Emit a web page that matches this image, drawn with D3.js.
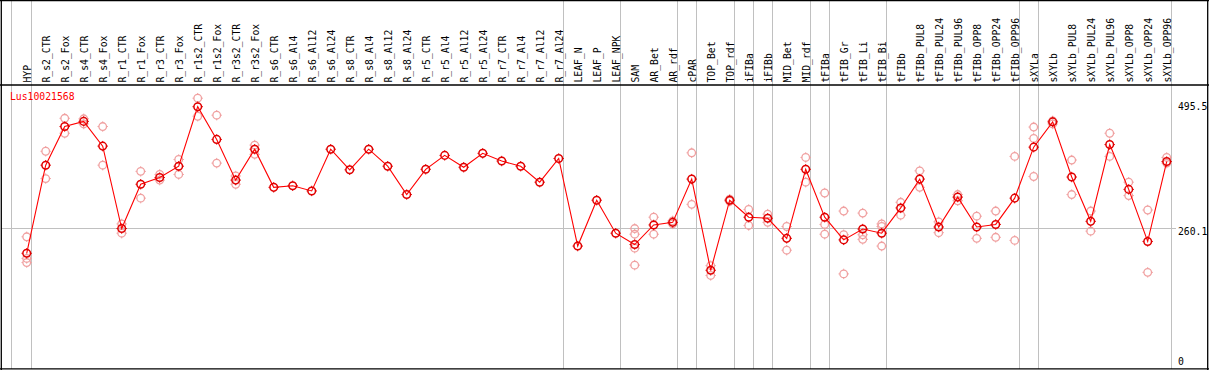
<!DOCTYPE html>
<html><head><meta charset="utf-8">
<script src="https://cdn.jsdelivr.net/npm/d3@7"></script>
<style>
html,body{margin:0;padding:0;background:#fff;}
svg{display:block;}
text{font-family:"DejaVu Sans Mono","Liberation Mono",monospace;}
</style></head>
<body>
<svg id="chart" width="1209" height="370"></svg>
<script>
const title = "Lus10021568";
const categories = ["HYP","R_s2_CTR","R_s2_Fox","R_s4_CTR","R_s4_Fox","R_r1_CTR","R_r1_Fox","R_r3_CTR","R_r3_Fox","R_r1s2_CTR","R_r1s2_Fox","R_r3s2_CTR","R_r3s2_Fox","R_s6_CTR","R_s6_Al4","R_s6_Al12","R_s6_Al24","R_s8_CTR","R_s8_Al4","R_s8_Al12","R_s8_Al24","R_r5_CTR","R_r5_Al4","R_r5_Al12","R_r5_Al24","R_r7_CTR","R_r7_Al4","R_r7_Al12","R_r7_Al24","LEAF_N","LEAF_P","LEAF_NPK","SAM","AR_Bet","AR_rdf","cPAR","TOP_Bet","TOP_rdf","iFIBa","iFIBb","MID_Bet","MID_rdf","tFIBa","tFIB_Gr","tFIB_Li","tFIB_Bi","tFIBb","tFIBb_PUL8","tFIBb_PUL24","tFIBb_PUL96","tFIBb_OPP8","tFIBb_OPP24","tFIBb_OPP96","sXYLa","sXYLb","sXYLb_PUL8","sXYLb_PUL24","sXYLb_PUL96","sXYLb_OPP8","sXYLb_OPP24","sXYLb_OPP96"];
const means = [211,382,457,467,419,259,345,358,380,495.5,432,353,413,339,342,332,413,373,413,380,325,374,401,378,405,390,380,349,395,225,314,250,228,266,271,355,178,314,281,279,240,374,281,237,258,250,299,355,262,320,262,267,318,417,466,359,273,422,335,234,389];
const replicates = [[243,201,193],[409,356],[473,444],[472,462],[457,382],[268,250],[370,318],[364,353],[393,364],[512,477],[479,386],[361,345],[421,403],[],[],[],[],[],[],[],[],[],[],[],[],[],[],[],[],[],[],[],[259,248,221,188],[281,248],[274,268],[406,306],[187,168],[316,312],[296,265],[287,271],[263,217],[397,349],[328,267,248],[293,247,171],[289,247,238],[268,263,225],[310,285],[371,339],[272,251],[325,313],[283,240],[293,242],[399,236],[456,434,360],[468,462],[392,325],[293,254],[444,399],[349,323],[295,174],[397,386]];
const groupEnds = ["HYP","R_r7_Al24","LEAF_NPK","AR_rdf","cPAR","TOP_rdf","iFIBa","iFIBb","MID_rdf","tFIBa","tFIB_Bi","tFIBb_OPP96","sXYLa","sXYLb_OPP96"];
const tickValues = [0, 260.1, 495.5];
const tickLabels = ["0", "260.1", "495.5"];

const W = 1209, H = 370;
const svg = d3.select("#chart");
const x = d3.scalePoint().domain(categories).range([26.7, 1166.7]);
const y = d3.scaleLinear().domain([0, 495.5]).range([362, 106.7]);
const grey = "#c0c0c0";

// separators
const seps = [x(categories[0]) - 16].concat(groupEnds.map(c => x(c) + 4));
svg.append("g").selectAll("line").data(seps).join("line")
  .attr("x1", d => Math.round(d) + 0.5).attr("x2", d => Math.round(d) + 0.5)
  .attr("y1", 0).attr("y2", 369)
  .attr("stroke", grey).attr("stroke-width", 1);

// horizontal reference line
svg.append("line")
  .attr("x1", 1).attr("x2", 1176)
  .attr("y1", Math.round(y(tickValues[1])) + 0.5).attr("y2", Math.round(y(tickValues[1])) + 0.5)
  .attr("stroke", grey).attr("stroke-width", 1);

// frame
const frame = svg.append("g").attr("stroke", "#000").attr("stroke-width", 1.3).attr("fill", "none");
frame.append("line").attr("x1", 0).attr("x2", W).attr("y1", 0.6).attr("y2", 0.6);
frame.append("line").attr("x1", 0).attr("x2", W).attr("y1", 85).attr("y2", 85);
frame.append("line").attr("x1", 0).attr("x2", W).attr("y1", 368.8).attr("y2", 368.8);
frame.append("line").attr("x1", 1.3).attr("x2", 1.3).attr("y1", 0).attr("y2", H);
frame.append("line").attr("x1", 1207.7).attr("x2", 1207.7).attr("y1", 0).attr("y2", H);

// category labels
svg.append("g").selectAll("text").data(categories).join("text")
  .attr("transform", d => `translate(${x(d) + 0.5},82.5) rotate(-90)`)
  .attr("dy", "0.36em")
  .attr("font-size", "9.75px")
  .attr("fill", "#000")
  .text(d => d);

// right axis labels
svg.append("g").selectAll("text").data(tickValues).join("text")
  .attr("x", 1178)
  .attr("y", (d, i) => y(d) + (i === 1 ? 4 : 0))
  .attr("dy", "0.35em")
  .attr("font-size", "9.75px")
  .attr("fill", "#000")
  .text((d, i) => tickLabels[i]);

// title
svg.append("text").attr("x", 10).attr("y", 97).attr("dy", "0.35em")
  .attr("font-size", "9.75px").attr("fill", "#ff0000").text(title);

function drawMarkers(g, pts, color, sw) {
  const m = g.selectAll("g").data(pts).join("g")
    .attr("transform", d => `translate(${d.x},${d.y})`)
    .attr("fill", "none").attr("stroke", color).attr("stroke-width", sw);
  m.append("circle").attr("r", 3.8);
  m.append("path").attr("d", "M0,-3.8V-5.2M0,3.8V5.2M-3.8,0H-5.2M3.8,0H5.2").attr("stroke-width", 1);
}

// replicates
const repPts = [];
replicates.forEach((arr, i) => arr.forEach(v => repPts.push({x: x(categories[i]), y: y(v)})));
drawMarkers(svg.append("g"), repPts, "#f0a0a0", 1.3);

// mean line
const line = d3.line().x((d, i) => x(categories[i])).y(d => y(d));
svg.append("path").datum(means).attr("d", line)
  .attr("fill", "none").attr("stroke", "#ff0000").attr("stroke-width", 1.1);

// mean markers
drawMarkers(svg.append("g"), means.map((v, i) => ({x: x(categories[i]), y: y(v)})), "#e00000", 1.5);
</script>
</body></html>
